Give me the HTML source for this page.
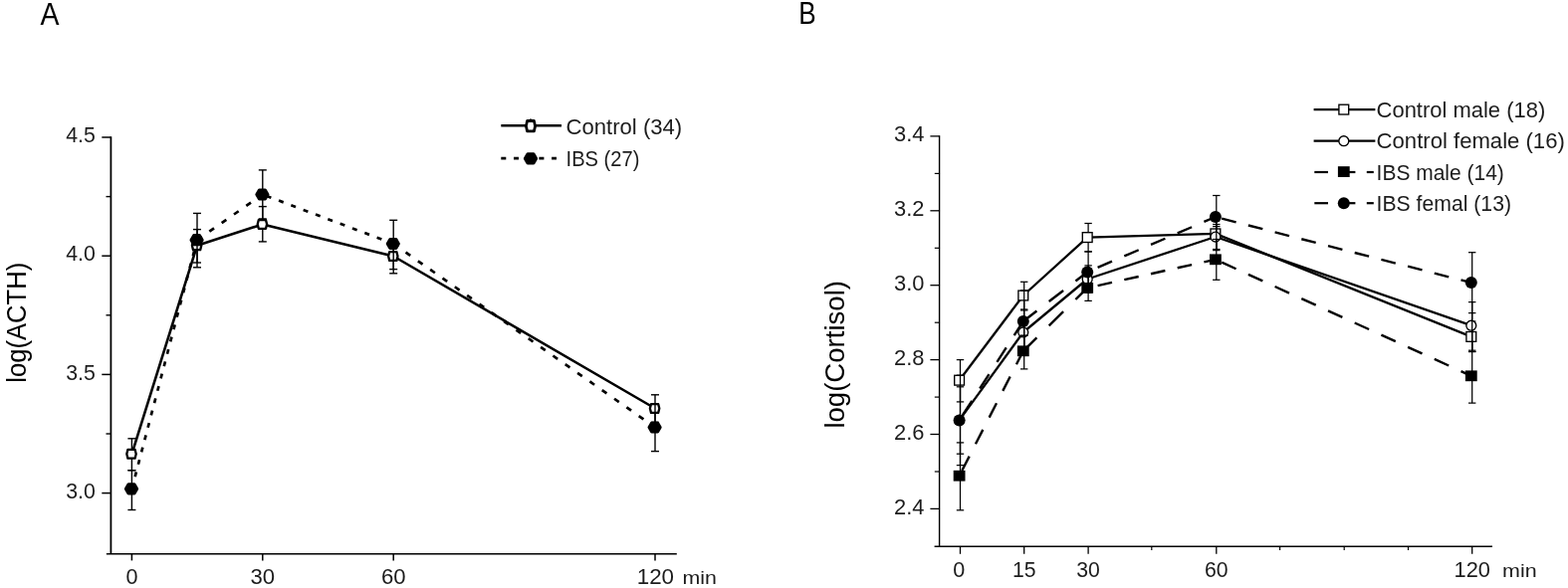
<!DOCTYPE html>
<html lang="en">
<head>
<meta charset="utf-8">
<title>Figure: log(ACTH) and log(Cortisol) time course</title>
<style>
html,body{margin:0;padding:0;background:#fff;}
body{width:1575px;height:591px;overflow:hidden;}
svg{display:block;}
svg text{font-family:"Liberation Sans",Arial,sans-serif;}
</style>
</head>
<body>
<svg width="1575" height="591" viewBox="0 0 1575 591">
<rect x="0" y="0" width="1575" height="591" fill="#fff"/>
<g id="chartA">
<line x1="111.40" y1="137.20" x2="111.40" y2="556.70" stroke="#000" stroke-width="1.8" />
<line x1="106.90" y1="556.70" x2="679.80" y2="556.70" stroke="#000" stroke-width="1.6" />
<line x1="102.30" y1="138.00" x2="111.40" y2="138.00" stroke="#000" stroke-width="1.5" />
<text x="95.80" y="143.10" font-size="22" text-anchor="end" fill="#1c1c1c" textLength="29.6" lengthAdjust="spacingAndGlyphs" >4.5</text>
<line x1="102.30" y1="257.20" x2="111.40" y2="257.20" stroke="#000" stroke-width="1.5" />
<text x="95.80" y="262.30" font-size="22" text-anchor="end" fill="#1c1c1c" textLength="29.6" lengthAdjust="spacingAndGlyphs" >4.0</text>
<line x1="102.30" y1="376.40" x2="111.40" y2="376.40" stroke="#000" stroke-width="1.5" />
<text x="95.80" y="381.50" font-size="22" text-anchor="end" fill="#1c1c1c" textLength="29.6" lengthAdjust="spacingAndGlyphs" >3.5</text>
<line x1="102.30" y1="495.60" x2="111.40" y2="495.60" stroke="#000" stroke-width="1.5" />
<text x="95.80" y="500.70" font-size="22" text-anchor="end" fill="#1c1c1c" textLength="29.6" lengthAdjust="spacingAndGlyphs" >3.0</text>
<line x1="106.50" y1="197.60" x2="111.40" y2="197.60" stroke="#000" stroke-width="1.4" />
<line x1="106.50" y1="316.80" x2="111.40" y2="316.80" stroke="#000" stroke-width="1.4" />
<line x1="106.50" y1="436.00" x2="111.40" y2="436.00" stroke="#000" stroke-width="1.4" />
<line x1="132.40" y1="556.70" x2="132.40" y2="563.40" stroke="#000" stroke-width="1.5" />
<text x="132.40" y="587.00" font-size="22.5" text-anchor="middle" fill="#1c1c1c" textLength="12.0" lengthAdjust="spacingAndGlyphs" >0</text>
<line x1="263.80" y1="556.70" x2="263.80" y2="563.40" stroke="#000" stroke-width="1.5" />
<text x="263.80" y="587.00" font-size="22.5" text-anchor="middle" fill="#1c1c1c" textLength="24.6" lengthAdjust="spacingAndGlyphs" >30</text>
<line x1="395.20" y1="556.70" x2="395.20" y2="563.40" stroke="#000" stroke-width="1.5" />
<text x="395.20" y="587.00" font-size="22.5" text-anchor="middle" fill="#1c1c1c" textLength="24.6" lengthAdjust="spacingAndGlyphs" >60</text>
<line x1="658.00" y1="556.70" x2="658.00" y2="563.40" stroke="#000" stroke-width="1.5" />
<text x="658.40" y="587.00" font-size="22.5" text-anchor="middle" fill="#1c1c1c" textLength="37.3" lengthAdjust="spacingAndGlyphs" >120</text>
<text x="685.60" y="587.00" font-size="18.5" text-anchor="start" fill="#1c1c1c" textLength="34.4" lengthAdjust="spacingAndGlyphs" >min</text>
<text transform="translate(25.7,384.8) rotate(-90)" font-size="27" fill="#000" textLength="121.0" lengthAdjust="spacingAndGlyphs">log(ACTH)</text>
<text x="40.60" y="24.50" font-size="31.2" text-anchor="start" fill="#000" textLength="19.0" lengthAdjust="spacingAndGlyphs" >A</text>
<polyline points="132.4,456.3 198.0,246.7 263.8,225.4 395.2,257.5 658.0,410.5" fill="none" stroke="#000" stroke-width="2.6" stroke-linejoin="round"/>
<line x1="132.4" y1="491.4" x2="198.0" y2="241.2" stroke="#000" stroke-width="2.7" stroke-dasharray="4.86 7.89" stroke-dashoffset="0.00"/>
<line x1="198.0" y1="241.2" x2="263.8" y2="195.5" stroke="#000" stroke-width="2.7" stroke-dasharray="5.72 9.29" stroke-dashoffset="0.00"/>
<line x1="263.8" y1="195.5" x2="395.2" y2="245.0" stroke="#000" stroke-width="2.7" stroke-dasharray="5.02 8.15" stroke-dashoffset="9.01"/>
<line x1="395.2" y1="245.0" x2="658.0" y2="429.5" stroke="#000" stroke-width="2.7" stroke-dasharray="5.74 9.32" stroke-dashoffset="0.00"/>
<line x1="132.40" y1="440.80" x2="132.40" y2="472.70" stroke="#000" stroke-width="1.4" />
<line x1="128.40" y1="440.80" x2="136.40" y2="440.80" stroke="#000" stroke-width="1.4" />
<line x1="128.40" y1="472.70" x2="136.40" y2="472.70" stroke="#000" stroke-width="1.4" />
<line x1="198.00" y1="230.60" x2="198.00" y2="264.00" stroke="#000" stroke-width="1.4" />
<line x1="194.00" y1="230.60" x2="202.00" y2="230.60" stroke="#000" stroke-width="1.4" />
<line x1="194.00" y1="264.00" x2="202.00" y2="264.00" stroke="#000" stroke-width="1.4" />
<line x1="263.80" y1="207.60" x2="263.80" y2="242.90" stroke="#000" stroke-width="1.4" />
<line x1="259.80" y1="207.60" x2="267.80" y2="207.60" stroke="#000" stroke-width="1.4" />
<line x1="259.80" y1="242.90" x2="267.80" y2="242.90" stroke="#000" stroke-width="1.4" />
<line x1="395.20" y1="240.50" x2="395.20" y2="274.80" stroke="#000" stroke-width="1.4" />
<line x1="391.20" y1="240.50" x2="399.20" y2="240.50" stroke="#000" stroke-width="1.4" />
<line x1="391.20" y1="274.80" x2="399.20" y2="274.80" stroke="#000" stroke-width="1.4" />
<line x1="658.00" y1="396.80" x2="658.00" y2="424.50" stroke="#000" stroke-width="1.4" />
<line x1="654.00" y1="396.80" x2="662.00" y2="396.80" stroke="#000" stroke-width="1.4" />
<line x1="654.00" y1="424.50" x2="662.00" y2="424.50" stroke="#000" stroke-width="1.4" />
<polygon points="127.30,456.30 128.40,451.90 135.60,451.90 136.70,456.30 135.60,460.70 128.40,460.70" fill="#fff" stroke="#000" stroke-width="2.3" stroke-linejoin="round"/>
<polygon points="192.90,246.70 194.00,242.30 201.20,242.30 202.30,246.70 201.20,251.10 194.00,251.10" fill="#fff" stroke="#000" stroke-width="2.3" stroke-linejoin="round"/>
<polygon points="258.70,225.40 259.80,221.00 267.00,221.00 268.10,225.40 267.00,229.80 259.80,229.80" fill="#fff" stroke="#000" stroke-width="2.3" stroke-linejoin="round"/>
<polygon points="390.10,257.50 391.20,253.10 398.40,253.10 399.50,257.50 398.40,261.90 391.20,261.90" fill="#fff" stroke="#000" stroke-width="2.3" stroke-linejoin="round"/>
<polygon points="652.90,410.50 654.00,406.10 661.20,406.10 662.30,410.50 661.20,414.90 654.00,414.90" fill="#fff" stroke="#000" stroke-width="2.3" stroke-linejoin="round"/>
<line x1="132.40" y1="472.70" x2="132.40" y2="512.50" stroke="#000" stroke-width="1.4" />
<line x1="128.40" y1="472.70" x2="136.40" y2="472.70" stroke="#000" stroke-width="1.4" />
<line x1="128.40" y1="512.50" x2="136.40" y2="512.50" stroke="#000" stroke-width="1.4" />
<line x1="198.00" y1="214.40" x2="198.00" y2="268.80" stroke="#000" stroke-width="1.4" />
<line x1="194.00" y1="214.40" x2="202.00" y2="214.40" stroke="#000" stroke-width="1.4" />
<line x1="194.00" y1="268.80" x2="202.00" y2="268.80" stroke="#000" stroke-width="1.4" />
<line x1="263.80" y1="170.90" x2="263.80" y2="220.00" stroke="#000" stroke-width="1.4" />
<line x1="259.80" y1="170.90" x2="267.80" y2="170.90" stroke="#000" stroke-width="1.4" />
<line x1="259.80" y1="220.00" x2="267.80" y2="220.00" stroke="#000" stroke-width="1.4" />
<line x1="395.20" y1="221.30" x2="395.20" y2="270.60" stroke="#000" stroke-width="1.4" />
<line x1="391.20" y1="221.30" x2="399.20" y2="221.30" stroke="#000" stroke-width="1.4" />
<line x1="391.20" y1="270.60" x2="399.20" y2="270.60" stroke="#000" stroke-width="1.4" />
<line x1="658.00" y1="406.00" x2="658.00" y2="453.60" stroke="#000" stroke-width="1.4" />
<line x1="654.00" y1="406.00" x2="662.00" y2="406.00" stroke="#000" stroke-width="1.4" />
<line x1="654.00" y1="453.60" x2="662.00" y2="453.60" stroke="#000" stroke-width="1.4" />
<polygon points="126.50,491.40 129.10,486.90 134.90,486.90 137.50,491.40 134.90,495.90 129.10,495.90" fill="#000" stroke="#000" stroke-width="3.2" stroke-linejoin="round"/>
<polygon points="192.10,241.20 194.70,236.70 200.50,236.70 203.10,241.20 200.50,245.70 194.70,245.70" fill="#000" stroke="#000" stroke-width="3.2" stroke-linejoin="round"/>
<polygon points="257.90,195.50 260.50,191.00 266.30,191.00 268.90,195.50 266.30,200.00 260.50,200.00" fill="#000" stroke="#000" stroke-width="3.2" stroke-linejoin="round"/>
<polygon points="389.30,245.00 391.90,240.50 397.70,240.50 400.30,245.00 397.70,249.50 391.90,249.50" fill="#000" stroke="#000" stroke-width="3.2" stroke-linejoin="round"/>
<polygon points="652.10,429.50 654.70,425.00 660.50,425.00 663.10,429.50 660.50,434.00 654.70,434.00" fill="#000" stroke="#000" stroke-width="3.2" stroke-linejoin="round"/>
<line x1="503.30" y1="126.30" x2="564.00" y2="126.30" stroke="#000" stroke-width="2.5" />
<polygon points="528.40,126.70 529.60,121.50 536.40,121.50 537.60,126.70 536.40,131.90 529.60,131.90" fill="#fff" stroke="#000" stroke-width="2.8" stroke-linejoin="round"/>
<path d="M531.6 120.4 L533 118.9 L534.4 120.4 Z" fill="#000"/>
<text x="568.60" y="134.80" font-size="22.3" text-anchor="start" fill="#1c1c1c" textLength="116.6" lengthAdjust="spacingAndGlyphs" >Control (34)</text>
<line x1="503.30" y1="159.20" x2="559.00" y2="159.20" stroke="#000" stroke-width="2.7" stroke-dasharray="5 7.7"/>
<polygon points="527.50,159.40 530.10,154.90 535.90,154.90 538.50,159.40 535.90,163.90 530.10,163.90" fill="#000" stroke="#000" stroke-width="3.2" stroke-linejoin="round"/>
<text x="568.60" y="167.20" font-size="22.3" text-anchor="start" fill="#1c1c1c" textLength="73.8" lengthAdjust="spacingAndGlyphs" >IBS (27)</text>
</g>
<g id="chartB">
<line x1="943.60" y1="136.30" x2="943.60" y2="549.30" stroke="#000" stroke-width="1.4" />
<line x1="938.60" y1="549.30" x2="1499.00" y2="549.30" stroke="#000" stroke-width="1.4" />
<line x1="934.40" y1="136.90" x2="943.60" y2="136.90" stroke="#000" stroke-width="1.3" />
<text x="928.40" y="142.00" font-size="22" text-anchor="end" fill="#1c1c1c" textLength="30.4" lengthAdjust="spacingAndGlyphs" >3.4</text>
<line x1="934.40" y1="211.80" x2="943.60" y2="211.80" stroke="#000" stroke-width="1.3" />
<text x="928.40" y="216.90" font-size="22" text-anchor="end" fill="#1c1c1c" textLength="30.4" lengthAdjust="spacingAndGlyphs" >3.2</text>
<line x1="934.40" y1="286.70" x2="943.60" y2="286.70" stroke="#000" stroke-width="1.3" />
<text x="928.40" y="291.80" font-size="22" text-anchor="end" fill="#1c1c1c" textLength="30.4" lengthAdjust="spacingAndGlyphs" >3.0</text>
<line x1="934.40" y1="361.60" x2="943.60" y2="361.60" stroke="#000" stroke-width="1.3" />
<text x="928.40" y="366.70" font-size="22" text-anchor="end" fill="#1c1c1c" textLength="30.4" lengthAdjust="spacingAndGlyphs" >2.8</text>
<line x1="934.40" y1="436.50" x2="943.60" y2="436.50" stroke="#000" stroke-width="1.3" />
<text x="928.40" y="441.60" font-size="22" text-anchor="end" fill="#1c1c1c" textLength="30.4" lengthAdjust="spacingAndGlyphs" >2.6</text>
<line x1="934.40" y1="511.40" x2="943.60" y2="511.40" stroke="#000" stroke-width="1.3" />
<text x="928.40" y="516.50" font-size="22" text-anchor="end" fill="#1c1c1c" textLength="30.4" lengthAdjust="spacingAndGlyphs" >2.4</text>
<line x1="938.80" y1="174.40" x2="943.60" y2="174.40" stroke="#000" stroke-width="1.2" />
<line x1="938.80" y1="249.30" x2="943.60" y2="249.30" stroke="#000" stroke-width="1.2" />
<line x1="938.80" y1="324.20" x2="943.60" y2="324.20" stroke="#000" stroke-width="1.2" />
<line x1="938.80" y1="399.10" x2="943.60" y2="399.10" stroke="#000" stroke-width="1.2" />
<line x1="938.80" y1="474.00" x2="943.60" y2="474.00" stroke="#000" stroke-width="1.2" />
<line x1="964.50" y1="549.30" x2="964.50" y2="556.80" stroke="#000" stroke-width="1.3" />
<text x="963.30" y="579.70" font-size="22.5" text-anchor="middle" fill="#1c1c1c" textLength="12.0" lengthAdjust="spacingAndGlyphs" >0</text>
<line x1="1028.70" y1="549.30" x2="1028.70" y2="556.80" stroke="#000" stroke-width="1.3" />
<text x="1028.70" y="579.70" font-size="22.5" text-anchor="middle" fill="#1c1c1c" textLength="23.6" lengthAdjust="spacingAndGlyphs" >15</text>
<line x1="1093.10" y1="549.30" x2="1093.10" y2="556.80" stroke="#000" stroke-width="1.3" />
<text x="1093.10" y="579.70" font-size="22.5" text-anchor="middle" fill="#1c1c1c" textLength="23.6" lengthAdjust="spacingAndGlyphs" >30</text>
<line x1="1221.80" y1="549.30" x2="1221.80" y2="556.80" stroke="#000" stroke-width="1.3" />
<text x="1221.80" y="579.70" font-size="22.5" text-anchor="middle" fill="#1c1c1c" textLength="23.6" lengthAdjust="spacingAndGlyphs" >60</text>
<line x1="1478.70" y1="549.30" x2="1478.70" y2="556.80" stroke="#000" stroke-width="1.3" />
<text x="1478.70" y="579.70" font-size="22.5" text-anchor="middle" fill="#1c1c1c" textLength="36.4" lengthAdjust="spacingAndGlyphs" >120</text>
<line x1="1156.80" y1="549.30" x2="1156.80" y2="553.00" stroke="#000" stroke-width="1.2" />
<line x1="1285.60" y1="549.30" x2="1285.60" y2="553.00" stroke="#000" stroke-width="1.2" />
<line x1="1350.20" y1="549.30" x2="1350.20" y2="553.00" stroke="#000" stroke-width="1.2" />
<line x1="1414.50" y1="549.30" x2="1414.50" y2="553.00" stroke="#000" stroke-width="1.2" />
<text x="1509.00" y="579.70" font-size="18.5" text-anchor="start" fill="#1c1c1c" textLength="34.6" lengthAdjust="spacingAndGlyphs" >min</text>
<text transform="translate(847.9,430.6) rotate(-90)" font-size="27" fill="#000" textLength="148.6" lengthAdjust="spacingAndGlyphs">log(Cortisol)</text>
<text x="802.30" y="24.20" font-size="30.8" text-anchor="start" fill="#000" textLength="17.4" lengthAdjust="spacingAndGlyphs" >B</text>
<polyline points="963.6,382.2 1027.8,297.0 1092.2,238.6 1220.9,234.9 1477.8,338.4" fill="none" stroke="#000" stroke-width="2.3" stroke-linejoin="round"/>
<line x1="964.50" y1="361.60" x2="964.50" y2="403.90" stroke="#000" stroke-width="1.25" />
<line x1="960.80" y1="361.60" x2="968.20" y2="361.60" stroke="#000" stroke-width="1.25" />
<line x1="960.80" y1="403.90" x2="968.20" y2="403.90" stroke="#000" stroke-width="1.25" />
<line x1="1028.70" y1="283.30" x2="1028.70" y2="311.00" stroke="#000" stroke-width="1.25" />
<line x1="1025.00" y1="283.30" x2="1032.40" y2="283.30" stroke="#000" stroke-width="1.25" />
<line x1="1025.00" y1="311.00" x2="1032.40" y2="311.00" stroke="#000" stroke-width="1.25" />
<line x1="1093.10" y1="224.50" x2="1093.10" y2="252.80" stroke="#000" stroke-width="1.25" />
<line x1="1089.40" y1="224.50" x2="1096.80" y2="224.50" stroke="#000" stroke-width="1.25" />
<line x1="1089.40" y1="252.80" x2="1096.80" y2="252.80" stroke="#000" stroke-width="1.25" />
<line x1="1221.80" y1="218.00" x2="1221.80" y2="251.60" stroke="#000" stroke-width="1.25" />
<line x1="1218.10" y1="218.00" x2="1225.50" y2="218.00" stroke="#000" stroke-width="1.25" />
<line x1="1218.10" y1="251.60" x2="1225.50" y2="251.60" stroke="#000" stroke-width="1.25" />
<line x1="1478.70" y1="323.00" x2="1478.70" y2="353.40" stroke="#000" stroke-width="1.25" />
<line x1="1475.00" y1="323.00" x2="1482.40" y2="323.00" stroke="#000" stroke-width="1.25" />
<line x1="1475.00" y1="353.40" x2="1482.40" y2="353.40" stroke="#000" stroke-width="1.25" />
<rect x="958.70" y="377.30" width="9.8" height="9.8" fill="#fff" stroke="#000" stroke-width="1.35"/>
<rect x="1022.90" y="292.10" width="9.8" height="9.8" fill="#fff" stroke="#000" stroke-width="1.35"/>
<rect x="1087.30" y="233.70" width="9.8" height="9.8" fill="#fff" stroke="#000" stroke-width="1.35"/>
<rect x="1216.00" y="230.00" width="9.8" height="9.8" fill="#fff" stroke="#000" stroke-width="1.35"/>
<rect x="1472.90" y="333.50" width="9.8" height="9.8" fill="#fff" stroke="#000" stroke-width="1.35"/>
<polyline points="963.6,422.4 1027.8,334.0 1092.2,280.5 1220.9,238.0 1477.8,327.2" fill="none" stroke="#000" stroke-width="2.3" stroke-linejoin="round"/>
<line x1="964.50" y1="388.80" x2="964.50" y2="456.20" stroke="#000" stroke-width="1.25" />
<line x1="960.80" y1="388.80" x2="968.20" y2="388.80" stroke="#000" stroke-width="1.25" />
<line x1="960.80" y1="456.20" x2="968.20" y2="456.20" stroke="#000" stroke-width="1.25" />
<line x1="1028.70" y1="311.90" x2="1028.70" y2="356.00" stroke="#000" stroke-width="1.25" />
<line x1="1025.00" y1="311.90" x2="1032.40" y2="311.90" stroke="#000" stroke-width="1.25" />
<line x1="1025.00" y1="356.00" x2="1032.40" y2="356.00" stroke="#000" stroke-width="1.25" />
<line x1="1093.10" y1="266.90" x2="1093.10" y2="294.00" stroke="#000" stroke-width="1.25" />
<line x1="1089.40" y1="266.90" x2="1096.80" y2="266.90" stroke="#000" stroke-width="1.25" />
<line x1="1089.40" y1="294.00" x2="1096.80" y2="294.00" stroke="#000" stroke-width="1.25" />
<line x1="1221.80" y1="225.50" x2="1221.80" y2="250.50" stroke="#000" stroke-width="1.25" />
<line x1="1218.10" y1="225.50" x2="1225.50" y2="225.50" stroke="#000" stroke-width="1.25" />
<line x1="1218.10" y1="250.50" x2="1225.50" y2="250.50" stroke="#000" stroke-width="1.25" />
<line x1="1478.70" y1="303.60" x2="1478.70" y2="352.20" stroke="#000" stroke-width="1.25" />
<line x1="1475.00" y1="303.60" x2="1482.40" y2="303.60" stroke="#000" stroke-width="1.25" />
<line x1="1475.00" y1="352.20" x2="1482.40" y2="352.20" stroke="#000" stroke-width="1.25" />
<circle cx="963.60" cy="422.40" r="4.95" fill="#fff" stroke="#000" stroke-width="1.35"/>
<circle cx="1027.80" cy="334.00" r="4.95" fill="#fff" stroke="#000" stroke-width="1.35"/>
<circle cx="1092.20" cy="280.50" r="4.95" fill="#fff" stroke="#000" stroke-width="1.35"/>
<circle cx="1220.90" cy="238.00" r="4.95" fill="#fff" stroke="#000" stroke-width="1.35"/>
<circle cx="1477.80" cy="327.20" r="4.95" fill="#fff" stroke="#000" stroke-width="1.35"/>
<line x1="963.6" y1="478.2" x2="1027.8" y2="352.8" stroke="#000" stroke-width="2.4" stroke-dasharray="16.18 13.82" stroke-dashoffset="24.15"/>
<line x1="1027.8" y1="352.8" x2="1092.2" y2="289.4" stroke="#000" stroke-width="2.4" stroke-dasharray="20.21 17.26" stroke-dashoffset="1.12"/>
<line x1="1092.2" y1="289.4" x2="1220.9" y2="260.8" stroke="#000" stroke-width="2.4" stroke-dasharray="14.75 12.60" stroke-dashoffset="16.70"/>
<line x1="1220.9" y1="260.8" x2="1477.8" y2="377.8" stroke="#000" stroke-width="2.4" stroke-dasharray="15.82 13.52" stroke-dashoffset="22.42"/>
<line x1="964.50" y1="444.90" x2="964.50" y2="512.80" stroke="#000" stroke-width="1.25" />
<line x1="960.80" y1="444.90" x2="968.20" y2="444.90" stroke="#000" stroke-width="1.25" />
<line x1="960.80" y1="512.80" x2="968.20" y2="512.80" stroke="#000" stroke-width="1.25" />
<line x1="1028.70" y1="337.20" x2="1028.70" y2="370.90" stroke="#000" stroke-width="1.25" />
<line x1="1025.00" y1="337.20" x2="1032.40" y2="337.20" stroke="#000" stroke-width="1.25" />
<line x1="1025.00" y1="370.90" x2="1032.40" y2="370.90" stroke="#000" stroke-width="1.25" />
<line x1="1093.10" y1="276.40" x2="1093.10" y2="302.40" stroke="#000" stroke-width="1.25" />
<line x1="1089.40" y1="276.40" x2="1096.80" y2="276.40" stroke="#000" stroke-width="1.25" />
<line x1="1089.40" y1="302.40" x2="1096.80" y2="302.40" stroke="#000" stroke-width="1.25" />
<line x1="1221.80" y1="240.50" x2="1221.80" y2="281.30" stroke="#000" stroke-width="1.25" />
<line x1="1218.10" y1="240.50" x2="1225.50" y2="240.50" stroke="#000" stroke-width="1.25" />
<line x1="1218.10" y1="281.30" x2="1225.50" y2="281.30" stroke="#000" stroke-width="1.25" />
<line x1="1478.70" y1="353.60" x2="1478.70" y2="405.10" stroke="#000" stroke-width="1.25" />
<line x1="1475.00" y1="353.60" x2="1482.40" y2="353.60" stroke="#000" stroke-width="1.25" />
<line x1="1475.00" y1="405.10" x2="1482.40" y2="405.10" stroke="#000" stroke-width="1.25" />
<rect x="957.70" y="472.80" width="11.8" height="10.8" fill="#000"/>
<rect x="1021.90" y="347.40" width="11.8" height="10.8" fill="#000"/>
<rect x="1086.30" y="284.00" width="11.8" height="10.8" fill="#000"/>
<rect x="1215.00" y="255.40" width="11.8" height="10.8" fill="#000"/>
<rect x="1471.90" y="372.40" width="11.8" height="10.8" fill="#000"/>
<line x1="963.6" y1="422.4" x2="1027.8" y2="323.0" stroke="#000" stroke-width="2.4" stroke-dasharray="17.14 14.64" stroke-dashoffset="25.59"/>
<line x1="1027.8" y1="323.0" x2="1092.2" y2="273.4" stroke="#000" stroke-width="2.4" stroke-dasharray="18.18 15.53" stroke-dashoffset="1.01"/>
<line x1="1092.2" y1="273.4" x2="1220.9" y2="218.0" stroke="#000" stroke-width="2.4" stroke-dasharray="15.68 13.39" stroke-dashoffset="17.75"/>
<line x1="1220.9" y1="218.0" x2="1477.8" y2="284.1" stroke="#000" stroke-width="2.4" stroke-dasharray="14.87 12.70" stroke-dashoffset="21.06"/>
<line x1="964.50" y1="377.20" x2="964.50" y2="467.60" stroke="#000" stroke-width="1.25" />
<line x1="960.80" y1="377.20" x2="968.20" y2="377.20" stroke="#000" stroke-width="1.25" />
<line x1="960.80" y1="467.60" x2="968.20" y2="467.60" stroke="#000" stroke-width="1.25" />
<line x1="1028.70" y1="292.00" x2="1028.70" y2="354.00" stroke="#000" stroke-width="1.25" />
<line x1="1025.00" y1="292.00" x2="1032.40" y2="292.00" stroke="#000" stroke-width="1.25" />
<line x1="1025.00" y1="354.00" x2="1032.40" y2="354.00" stroke="#000" stroke-width="1.25" />
<line x1="1093.10" y1="253.00" x2="1093.10" y2="293.80" stroke="#000" stroke-width="1.25" />
<line x1="1089.40" y1="253.00" x2="1096.80" y2="253.00" stroke="#000" stroke-width="1.25" />
<line x1="1089.40" y1="293.80" x2="1096.80" y2="293.80" stroke="#000" stroke-width="1.25" />
<line x1="1221.80" y1="196.50" x2="1221.80" y2="227.60" stroke="#000" stroke-width="1.25" />
<line x1="1218.10" y1="196.50" x2="1225.50" y2="196.50" stroke="#000" stroke-width="1.25" />
<line x1="1218.10" y1="227.60" x2="1225.50" y2="227.60" stroke="#000" stroke-width="1.25" />
<line x1="1478.70" y1="253.70" x2="1478.70" y2="314.60" stroke="#000" stroke-width="1.25" />
<line x1="1475.00" y1="253.70" x2="1482.40" y2="253.70" stroke="#000" stroke-width="1.25" />
<line x1="1475.00" y1="314.60" x2="1482.40" y2="314.60" stroke="#000" stroke-width="1.25" />
<circle cx="963.60" cy="422.40" r="6.0" fill="#000"/>
<circle cx="1027.80" cy="323.00" r="6.0" fill="#000"/>
<circle cx="1092.20" cy="273.40" r="6.0" fill="#000"/>
<circle cx="1220.90" cy="218.00" r="6.0" fill="#000"/>
<circle cx="1477.80" cy="284.10" r="6.0" fill="#000"/>
<line x1="1028.70" y1="323.00" x2="1028.70" y2="352.00" stroke="#000" stroke-width="1.25" />
<line x1="1221.80" y1="225.50" x2="1221.80" y2="251.60" stroke="#000" stroke-width="1.25" />
<line x1="1478.70" y1="314.60" x2="1478.70" y2="353.40" stroke="#000" stroke-width="1.25" />
<line x1="1025.00" y1="337.40" x2="1032.40" y2="337.40" stroke="#000" stroke-width="1.25" />
<line x1="1319.60" y1="110.10" x2="1381.40" y2="110.10" stroke="#000" stroke-width="2.3" />
<rect x="1344.90" y="105.20" width="9.8" height="9.8" fill="#fff" stroke="#000" stroke-width="1.35"/>
<text x="1382.60" y="117.60" font-size="21.5" text-anchor="start" fill="#1c1c1c" textLength="169.6" lengthAdjust="spacingAndGlyphs" >Control male (18)</text>
<line x1="1319.60" y1="141.70" x2="1381.40" y2="141.70" stroke="#000" stroke-width="2.3" />
<circle cx="1349.80" cy="141.70" r="4.95" fill="#fff" stroke="#000" stroke-width="1.35"/>
<text x="1382.60" y="149.20" font-size="21.5" text-anchor="start" fill="#1c1c1c" textLength="189.2" lengthAdjust="spacingAndGlyphs" >Control female (16)</text>
<line x1="1320.30" y1="173.00" x2="1334.00" y2="173.00" stroke="#000" stroke-width="2.2" />
<line x1="1354.00" y1="173.00" x2="1361.40" y2="173.00" stroke="#000" stroke-width="2.2" />
<line x1="1372.80" y1="173.00" x2="1379.80" y2="173.00" stroke="#000" stroke-width="2.2" />
<line x1="1320.30" y1="204.20" x2="1334.00" y2="204.20" stroke="#000" stroke-width="2.2" />
<line x1="1354.00" y1="204.20" x2="1361.40" y2="204.20" stroke="#000" stroke-width="2.2" />
<line x1="1372.80" y1="204.20" x2="1379.80" y2="204.20" stroke="#000" stroke-width="2.2" />
<rect x="1343.90" y="167.20" width="11.8" height="10.8" fill="#000"/>
<circle cx="1349.80" cy="204.20" r="6.0" fill="#000"/>
<text x="1382.60" y="180.60" font-size="21.5" text-anchor="start" fill="#1c1c1c" textLength="128.2" lengthAdjust="spacingAndGlyphs" >IBS male (14)</text>
<text x="1382.60" y="211.80" font-size="21.5" text-anchor="start" fill="#1c1c1c" textLength="135.4" lengthAdjust="spacingAndGlyphs" >IBS femal (13)</text>
</g>
</svg>
</body>
</html>
